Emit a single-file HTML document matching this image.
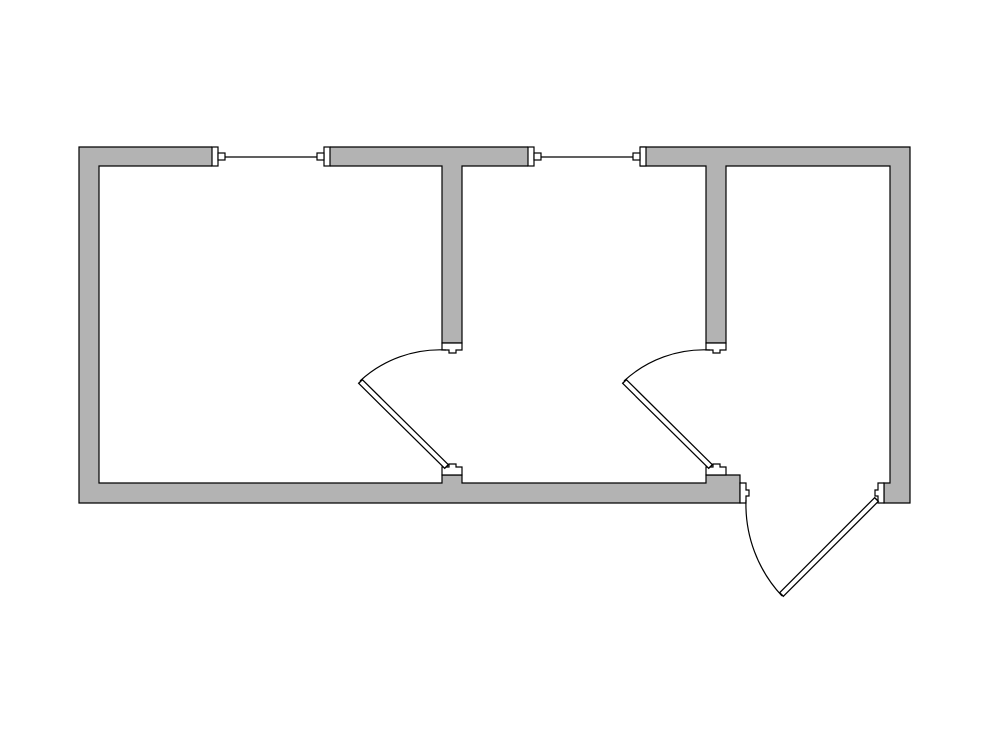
<!DOCTYPE html>
<html><head><meta charset="utf-8"><style>html,body{margin:0;padding:0;background:#fff}svg{display:block}</style></head>
<body>
<svg width="990" height="743" viewBox="0 0 990 743" xmlns="http://www.w3.org/2000/svg">
<g stroke="#000" stroke-width="1.2" stroke-linejoin="miter">
<polygon fill="#b3b3b3" points="79,147 910,147 910,503 884,503 884,483 740,483 740,503 79,503"/>
<polygon fill="#fff" points="99,166 442,166 442,343 462,343 462,166 706,166 706,343 726,343 726,166 890,166 890,483 884,483 740,483 740,475 706,475 706,483 462,483 462,475 442,475 442,483 99,483"/>
</g>
<rect x="741" y="481" width="142" height="24" fill="#fff"/>
<rect x="212" y="145" width="118" height="23" fill="#fff"/>
<rect x="528" y="145" width="112" height="23" fill="#fff"/>
<g stroke="#000" stroke-width="1.2" fill="#fff">
<rect x="212" y="147" width="6" height="19"/>
<rect x="218" y="153" width="7" height="7"/>
<rect x="324" y="147" width="6" height="19"/>
<rect x="317" y="153" width="7" height="7"/>
<line x1="225" y1="157" x2="317" y2="157"/>
<rect x="528" y="147" width="6" height="19"/>
<rect x="534" y="153" width="7" height="7"/>
<rect x="640" y="147" width="6" height="19"/>
<rect x="633" y="153" width="7" height="7"/>
<line x1="541" y1="157" x2="633" y2="157"/>
<path d="M442,343 H462 V350 H456 V353 H449 V350 H442 Z"/>
<path d="M442,475 H462 V467 H456 V464 H449 V467 H442 Z"/>
<path d="M706,343 H726 V350 H720 V353 H713 V350 H706 Z"/>
<path d="M706,475 H726 V467 H720 V464 H713 V467 H706 Z"/>
<path d="M740,483 V503 H746 V496 H749 V490 H746 V483 Z"/>
<path d="M884,483 V503 H878 V496 H875 V490 H878 V483 Z"/>
</g>
<g fill="none" stroke="#000" stroke-width="1.2">
<path d="M446,350 A118 118 0 0 0 360,381"/>
<path d="M710,350 A118 118 0 0 0 624,381"/>
<path d="M746,500 A134 134 0 0 0 782,596"/>
</g>
<g stroke-linecap="butt">
<line x1="447" y1="467" x2="360" y2="381" stroke="#000" stroke-width="6.5"/>
<line x1="446" y1="466" x2="361" y2="382" stroke="#fff" stroke-width="4"/>
<line x1="711" y1="467" x2="624" y2="381" stroke="#000" stroke-width="6.5"/>
<line x1="710" y1="466" x2="625" y2="382" stroke="#fff" stroke-width="4"/>
<line x1="877" y1="499" x2="781" y2="595" stroke="#000" stroke-width="6.5"/>
<line x1="876" y1="500" x2="782" y2="594" stroke="#fff" stroke-width="4"/>
</g>
</svg>
</body></html>
